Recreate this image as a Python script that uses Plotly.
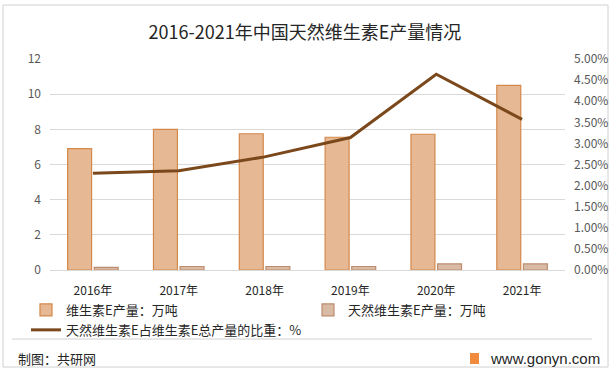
import plotly.graph_objects as go

years = ["2016年", "2017年", "2018年", "2019年", "2020年", "2021年"]
vit_e_total = [6.9, 8.0, 7.75, 7.55, 7.72, 10.5]
vit_e_natural = [0.15, 0.2, 0.2, 0.2, 0.35, 0.35]
natural_share = [2.29, 2.35, 2.68, 3.14, 4.64, 3.57]

W, H = 616, 375
L, R, T, B = 50, 51, 59, 105
pw, ph = W - L - R, H - T - B

def px(x):
    return (x - L) / pw

def py(y):
    return (H - B - y) / ph

font_cjk = "Noto Sans CJK SC, Noto Sans, sans-serif"

fig = go.Figure()
fig.add_trace(go.Bar(
    x=years, y=vit_e_total, name="维生素E产量：万吨",
    marker=dict(color="#E6B994", line=dict(color="#D4884A", width=1.2)),
    yaxis="y", legend="legend",
))
fig.add_trace(go.Bar(
    x=years, y=vit_e_natural, name="天然维生素E产量：万吨",
    marker=dict(color="#D9BBA5", line=dict(color="#BE8C6C", width=1.2)),
    yaxis="y", legend="legend2",
))
fig.add_trace(go.Scatter(
    x=years, y=natural_share, name="天然维生素E占维生素E总产量的比重：%",
    mode="lines", line=dict(color="#7B481C", width=3),
    yaxis="y2", legend="legend",
))

legend_common = dict(orientation="v", xanchor="left", yanchor="top", tracegroupgap=0,
                     font=dict(size=13, color="#262626", family=font_cjk),
                     bgcolor="rgba(0,0,0,0)", itemwidth=30)

fig.update_layout(
    width=W, height=H, autosize=False,
    margin=dict(l=L, r=R, t=T, b=B, autoexpand=False),
    paper_bgcolor="white", plot_bgcolor="white",
    font=dict(family=font_cjk, size=11, color="#595959"),
    barmode="group", bargap=0.38, bargroupgap=0.1,
    title=dict(text="2016-2021年中国天然维生素E产量情况", x=0.495, xanchor="center",
               y=1 - 33 / H, yanchor="middle",
               font=dict(size=18, color="#262626", family=font_cjk)),
    xaxis=dict(showgrid=False, showline=True, linecolor="#D9D9D9", linewidth=1,
               ticks="", tickfont=dict(size=12, color="#262626"), ticklabelstandoff=10,
               automargin=False),
    yaxis=dict(range=[0, 12], dtick=2, showgrid=True, gridcolor="#D9D9D9", gridwidth=1,
               zeroline=False, showline=False, ticks="", ticklabelstandoff=8,
               tickfont=dict(size=12, color="#595959"), automargin=False),
    yaxis2=dict(range=[0, 5], dtick=0.5, overlaying="y", side="right", showgrid=False,
                zeroline=False, showline=False, ticks="", tickformat=".2f", ticksuffix="%",
                ticklabelstandoff=8, tickfont=dict(size=12, color="#595959"), automargin=False),
    legend=dict(x=px(26), y=py(295), **legend_common),
    legend2=dict(x=px(308), y=py(295), **legend_common),
    showlegend=True,
)

shapes = [
    dict(type="rect", xref="paper", yref="paper", x0=px(3), x1=px(608), y0=py(367), y1=py(5),
         line=dict(color="#D0D0D0", width=1), fillcolor="rgba(0,0,0,0)", layer="below"),
    dict(type="line", xref="paper", yref="paper", x0=px(12), x1=px(592), y0=py(339), y1=py(339),
         line=dict(color="#D0D0D0", width=1)),
    dict(type="rect", xref="paper", yref="paper", x0=px(470), x1=px(479), y0=py(364), y1=py(353),
         line=dict(width=0), fillcolor="#F08B3E"),
]
fig.update_layout(shapes=shapes)

fig.add_annotation(text="制图：共研网", xref="paper", yref="paper", x=px(16), y=py(358),
                   xanchor="left", yanchor="middle", showarrow=False,
                   font=dict(size=13, color="#262626", family=font_cjk))
fig.add_annotation(text="www.gonyn.com", xref="paper", yref="paper", x=px(488), y=py(358),
                   xanchor="left", yanchor="middle", showarrow=False,
                   font=dict(size=15, color="#262626", family="Liberation Sans, sans-serif"))

fig.write_html("out.html",
               config={"responsive": False, "displayModeBar": False},
               post_script="document.body.style.margin='0';")
